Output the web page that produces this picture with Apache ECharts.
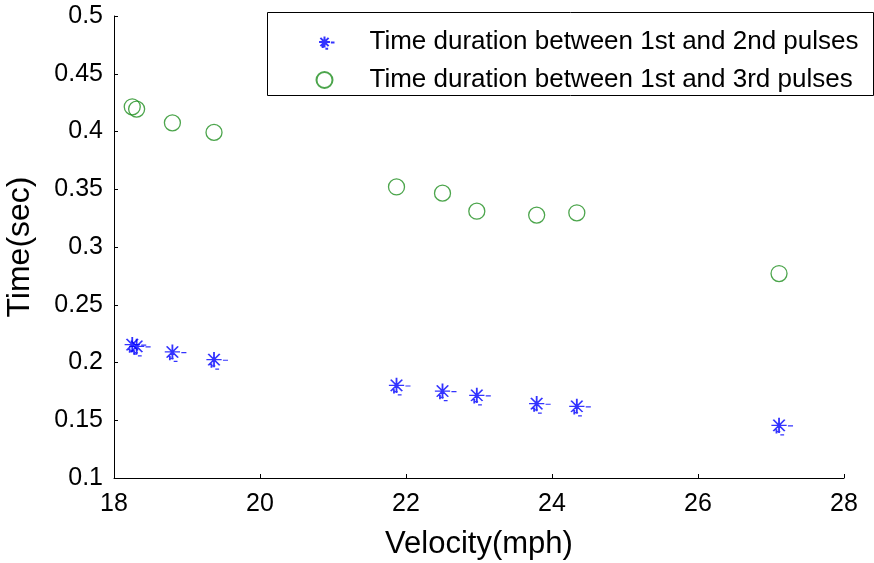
<!DOCTYPE html>
<html>
<head>
<meta charset="utf-8">
<script src="https://cdn.jsdelivr.net/npm/echarts@6/dist/echarts.min.js"></script>
<style>
html,body{margin:0;padding:0;background:#fff;}
#c{width:874px;height:563px;}
</style>
</head>
<body>
<div id="c"></div>
<script>
// Data
var velocity = [18.25, 18.31, 18.80, 19.37, 21.87, 22.50, 22.97, 23.79, 24.34, 27.11];
var time12 = [0.2155, 0.2140, 0.2091, 0.2025, 0.1802, 0.1753, 0.1716, 0.1644, 0.1621, 0.1456];
var time13 = [0.4214, 0.4194, 0.4075, 0.3992, 0.3520, 0.3466, 0.3310, 0.3276, 0.3296, 0.2770];
var seriesNames = ['Time duration between 1st and 2nd pulses', 'Time duration between 1st and 3rd pulses'];
var xTicks = [18, 20, 22, 24, 26, 28];
var yTicks = [0.1, 0.15, 0.2, 0.25, 0.3, 0.35, 0.4, 0.45, 0.5];

function pairs(xs, ys) { return xs.map(function (x, i) { return [x, ys[i]]; }); }

var starPath = 'path://M-11 -7.5 M-6 0 L6 0 M0 -6 L0 6 M-4.5 -4.5 L4.5 4.5 M-4.5 4.5 L4.5 -4.5 ' +
  'M7 0.5 L11 0.5 M-2 5 L1 5 M1 7.5 L4 7.5 M-2 3 L-2 6.5 M11 7.5';

var font = '"Liberation Sans", Arial, Helvetica, sans-serif';
var chart = echarts.init(document.getElementById('c'), null, {renderer: 'canvas'});
chart.setOption({
  backgroundColor: '#ffffff',
  animation: false,
  textStyle: {fontFamily: font},
  grid: {left: 114, right: 30, top: 16, bottom: 85, containLabel: false, outerBoundsMode: 'none'},
  xAxis: {
    type: 'value', min: 18, max: 28, interval: 2,
    name: 'Velocity(mph)', nameLocation: 'middle', nameGap: 51,
    nameTextStyle: {fontSize: 31, color: '#000', fontFamily: font},
    axisLine: {show: true, onZero: false, lineStyle: {color: '#000', width: 1}},
    axisTick: {show: true, inside: true, length: 4, lineStyle: {color: '#000'}},
    axisLabel: {fontSize: 25, color: '#000', margin: 14, fontFamily: font,
      formatter: function (v) { return xTicks.indexOf(v) >= 0 ? String(v) : ''; }},
    splitLine: {show: false}
  },
  yAxis: {
    type: 'value', min: 0.1, max: 0.5, interval: 0.05,
    name: 'Time(sec)', nameLocation: 'middle', nameGap: 78,
    nameTextStyle: {fontSize: 32, color: '#000', fontFamily: font},
    axisLine: {show: true, onZero: false, lineStyle: {color: '#000', width: 1}},
    axisTick: {show: true, inside: true, length: 4, lineStyle: {color: '#000'}},
    axisLabel: {fontSize: 25, color: '#000', margin: 11, fontFamily: font,
      formatter: function (v) {
        var r = Math.round(v * 100) / 100;
        return yTicks.indexOf(r) >= 0 ? String(r) : '';
      }},
    splitLine: {show: false}
  },
  legend: {
    orient: 'vertical', left: 307, top: 24,
    itemWidth: 20, itemHeight: 16, itemGap: 12,
    textStyle: {fontSize: 26, color: '#000', fontFamily: font, lineHeight: 24, padding: [0, 0, 0, 30]},
    data: seriesNames
  },
  graphic: [{
    type: 'rect', left: 267, top: 12, z: -1,
    shape: {width: 606, height: 83},
    style: {fill: '#fff', stroke: '#000', lineWidth: 1}
  }],
  series: [
    {
      name: seriesNames[0], type: 'scatter',
      symbol: starPath, symbolSize: [28, 19],
      itemStyle: {color: 'none', borderColor: '#0000ff', borderWidth: 1.5},
      data: pairs(velocity, time12)
    },
    {
      name: seriesNames[1], type: 'scatter',
      symbol: 'circle', symbolSize: 16,
      itemStyle: {color: 'none', borderColor: '#1f8f1f', borderWidth: 1.3},
      data: pairs(velocity, time13)
    }
  ]
});
</script>
</body>
</html>
